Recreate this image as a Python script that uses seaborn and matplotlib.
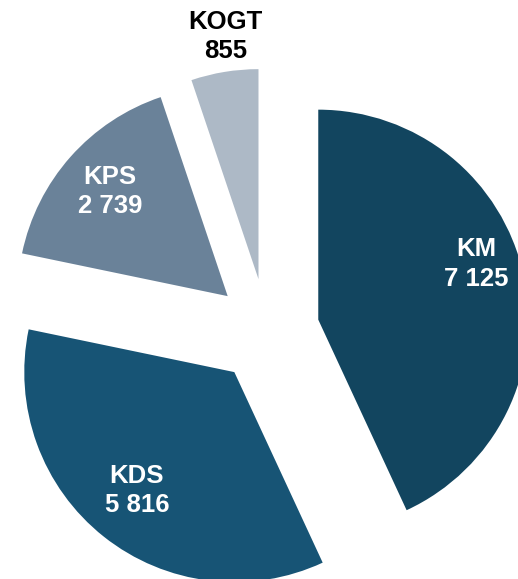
import numpy as np
import matplotlib
matplotlib.use("Agg")
import matplotlib.pyplot as plt
import seaborn as sns

# Data
categories = ["KM", "KDS", "KPS", "KOGT"]
values = [7125, 5816, 2739, 855]
colors = ["#12455F", "#175475", "#6A8299", "#ADB9C6"]

sns.set_style("white")
plt.rcParams['font.family'] = ['Liberation Sans', 'DejaVu Sans']

fig = plt.figure(figsize=(5.18, 5.79), dpi=100)
ax = fig.add_axes([0, 0, 1, 1])

wedges, _ = ax.pie(values, colors=colors, startangle=90, counterclock=False,
                   explode=[0.25] * len(values), radius=1.0,
                   wedgeprops=dict(linewidth=0))

# label distance / angle tweak per slice
label_dist = [0.80, 0.73, 0.75, 1.167]
label_turn = [7, -1, 0, -1.5]

for w, cat, val, d, t in zip(wedges, categories, values, label_dist, label_turn):
    ang = np.deg2rad((w.theta1 + w.theta2) / 2 + t)
    cx, cy = w.center
    txt = f"{cat}\n{val:,}".replace(",", " ")
    ax.text(cx + d * np.cos(ang), cy + d * np.sin(ang), txt,
            ha="center", va="center", fontsize=18.5, fontweight="bold",
            color="black" if cat == "KOGT" else "white", linespacing=1.3)

ax.set_xlim(-1.271, 1.195)
ax.set_ylim(-1.181, 1.576)
ax.set_aspect("auto")
ax.axis("off")

fig.savefig("out.png", dpi=100)
